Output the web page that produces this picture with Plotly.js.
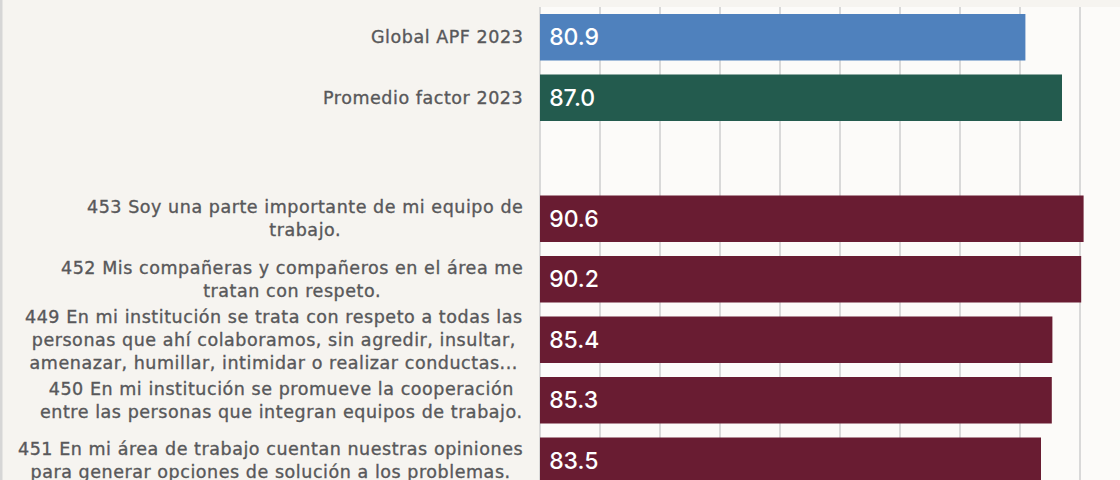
<!DOCTYPE html>
<html>
<head>
<meta charset="utf-8">
<script src="https://cdn.plot.ly/plotly-3.0.1.min.js"></script>
<style>
  html, body { margin: 0; padding: 0; background: #f6f4f0; }
  #chart { width: 1120px; height: 480px; }
  .annotation-text { letter-spacing: 0.55px; stroke: #58585a; stroke-width: 0.35px; }
</style>
</head>
<body>
<div id="chart"></div>
<script>
// ---- data ----
const categories = [
  "Global APF 2023",
  "Promedio factor 2023",
  "",
  "453 Soy una parte importante de mi equipo de<br>trabajo.",
  "452 Mis compañeras y compañeros en el área me<br>tratan con respeto.",
  "449 En mi institución se trata con respeto a todas las<br>personas que ahí colaboramos, sin agredir, insultar,<br>amenazar, humillar, intimidar o realizar conductas...",
  "450 En mi institución se promueve la cooperación<br>entre las personas que integran equipos de trabajo.",
  "451 En mi área de trabajo cuentan nuestras opiniones<br>para generar opciones de solución a los problemas."
];
const values = [80.9, 87.0, null, 90.6, 90.2, 85.4, 85.3, 83.5];
const barColors = ["#4f81bd", "#235b4e", "#691c32", "#691c32", "#691c32", "#691c32", "#691c32", "#691c32"];

// ---- chart ----
const LABEL_FAMILY = "DejaVu Sans, sans-serif";
const VALUE_FAMILY = "Inter, sans-serif";
const PLOT_L = 540, PLOT_W = 580, LABEL_RIGHT = 523.5;
const positions = categories.map((_, i) => i);

const trace = {
  type: "bar",
  orientation: "h",
  x: values,
  y: positions,
  marker: { color: barColors, line: { width: 0 } },
  texttemplate: "\u00a0%{x:.1f}",
  textposition: "inside",
  insidetextanchor: "start",
  textfont: { family: VALUE_FAMILY, size: 23, color: "#ffffff", weight: 500 },
  constraintext: "none",
  hoverinfo: "skip",
  showlegend: false
};

const annotations = categories.map((c, i) => ({
  xref: "paper", yref: "y",
  x: (LABEL_RIGHT - PLOT_L) / PLOT_W, y: i,
  xanchor: "right", yanchor: "middle",
  align: "center",
  borderpad: 0,
  text: c,
  showarrow: false,
  font: { family: LABEL_FAMILY, size: 17.5, color: "#58585a" }
})).filter(a => a.text !== "");

const layout = {
  width: 1120, height: 480,
  margin: { l: PLOT_L, r: 0, t: 7, b: 0, pad: 0 },
  paper_bgcolor: "#f6f4f0",
  plot_bgcolor: "#fcfbf9",
  bargap: 0.233,
  xaxis: {
    range: [0, PLOT_W / 6],
    dtick: 10, tick0: 0,
    showgrid: true, gridcolor: "#d9d9d9", gridwidth: 1.5,
    zeroline: true, zerolinecolor: "#d9d9d9", zerolinewidth: 1.5,
    showticklabels: false, ticks: "", showline: false,
    fixedrange: true
  },
  yaxis: {
    range: [7.5 + 473 / 60.5 - 8, -0.5],
    showticklabels: false, showgrid: false, zeroline: false, ticks: "",
    fixedrange: true
  },
  annotations: annotations,
  shapes: [{
    type: "line", xref: "paper", yref: "paper",
    x0: -539 / PLOT_W, x1: -539 / PLOT_W, y0: 0, y1: 1 + 7 / 473,
    line: { color: "#d6d6d6", width: 3 }
  }]
};

Plotly.newPlot("chart", [trace], layout, { displayModeBar: false, staticPlot: true });
</script>
</body>
</html>
